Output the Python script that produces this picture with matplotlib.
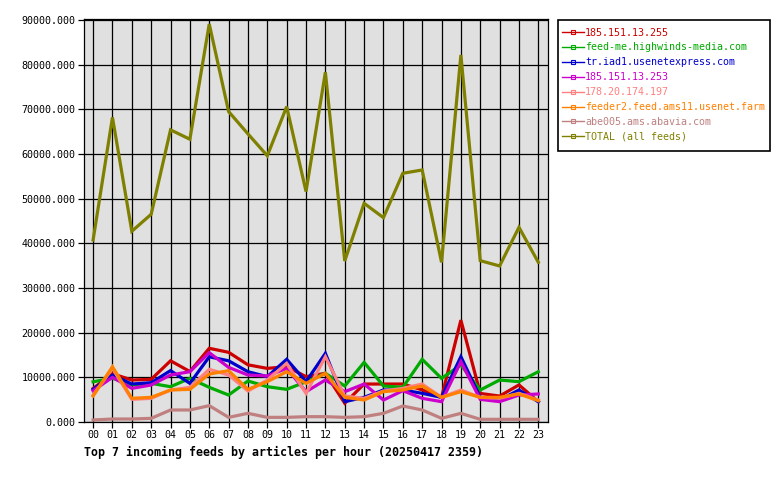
import matplotlib
matplotlib.use("Agg")
import matplotlib.pyplot as plt
from matplotlib.ticker import FuncFormatter
from matplotlib.lines import Line2D
from matplotlib.patches import Rectangle

hours = [f"{h:02d}" for h in range(24)]

feed_185_151_13_255 = [7500, 10800, 9400, 9550, 13700, 11300, 16500, 15600, 12800, 12000, 12400, 10150,
                       10900, 4200, 8500, 8500, 8500, 7200, 5500, 22800, 6400, 5800, 8300, 4550]
feed_highwinds = [9000, 9800, 8300, 8650, 7900, 9770, 7760, 6040, 9180, 7900, 7310, 9000,
                  10900, 8060, 13350, 8060, 7760, 14030, 9770, 12760, 7160, 9400, 9030, 11260]
feed_usenetexpress = [7300, 10500, 8500, 8800, 11500, 8650, 14600, 13700, 11260, 10150, 14030, 9030,
                      15370, 4550, 5520, 7160, 7160, 6420, 5520, 14620, 5520, 4920, 7160, 4550]
feed_185_151_13_253 = [7000, 10000, 7530, 8280, 10520, 11260, 15520, 12230, 10520, 10300, 12010, 6790,
                       9400, 6790, 8500, 4920, 7010, 5300, 4550, 13500, 5070, 4550, 6040, 6270]
feed_178_20_174_197 = [6000, 12000, 5070, 5300, 7160, 7760, 11790, 10520, 6940, 9400, 13130, 6420,
                       14620, 5820, 5300, 6940, 7530, 8500, 5520, 7160, 5520, 5300, 6420, 4920]
feed_ams11 = [5820, 12380, 5300, 5520, 7160, 7310, 10740, 11490, 7310, 9030, 11260, 8650,
              10890, 5520, 4920, 6790, 7160, 8060, 5520, 6790, 5520, 5520, 6270, 4770]
feed_abavia = [450, 670, 670, 820, 2690, 2690, 3660, 1040, 1940, 1040, 1040, 1190,
               1190, 1040, 1190, 1940, 3580, 2690, 820, 1940, 600, 600, 600, 600]
total_all = [40750, 68200, 42700, 46500, 65400, 63300, 89100, 69500, 64500, 59600, 70600, 51600,
             78300, 36050, 48960, 45750, 55680, 56420, 35750, 82170, 36120, 34930, 43590, 35750]

series_names = ["185.151.13.255", "feed-me.highwinds-media.com", "tr.iad1.usenetexpress.com",
                "185.151.13.253", "178.20.174.197", "feeder2.feed.ams11.usenet.farm",
                "abe005.ams.abavia.com", "TOTAL (all feeds)"]
series_values = [feed_185_151_13_255, feed_highwinds, feed_usenetexpress, feed_185_151_13_253,
                 feed_178_20_174_197, feed_ams11, feed_abavia, total_all]
series_colors = ["#CC0000", "#00AA00", "#0000CC", "#CC00CC", "#FF8080", "#FF8000", "#C08080", "#808000"]

title = "Top 7 incoming feeds by articles per hour (20250417 2359)"

mono = "DejaVu Sans Mono"
fs = 7.2
W, H = 780, 480

fig = plt.figure(figsize=(7.8, 4.8), dpi=100)
fig.patch.set_facecolor("white")
ax = fig.add_axes([84 / W, 58 / H, 464 / W, 403 / H])
ax.set_facecolor("#E0E0E0")

x = list(range(len(hours)))
for name, vals, col in zip(series_names, series_values, series_colors):
    ax.plot(x, vals, color=col, lw=2.3, solid_joinstyle="miter", zorder=3, label=name)

ax.set_xlim(-0.47, 23.5)
ax.set_ylim(0, 90220)
ax.set_yticks(range(0, 90001, 10000))
ax.yaxis.set_major_formatter(FuncFormatter(lambda v, p: f"{v:.3f}"))
ax.set_xticks(x)
ax.set_xticklabels(hours)
ax.grid(True, color="black", lw=0.9, zorder=1)
ax.set_axisbelow(True)
for sp in ax.spines.values():
    sp.set_color("black")
    sp.set_linewidth(0.9)
ax.tick_params(axis="both", direction="out", length=4, width=0.9, color="black", pad=2)
for lbl in ax.get_xticklabels() + ax.get_yticklabels():
    lbl.set_family(mono)
    lbl.set_fontsize(fs)

fig.text(84 / W, 1 - 452 / H, title, family=mono, fontweight="bold", fontsize=8.4,
         ha="left", va="center")

# legend frame
fig.patches.append(Rectangle((558 / W, 1 - 151 / H), 212 / W, 131 / H, transform=fig.transFigure,
                             facecolor="white", edgecolor="black", lw=1.2, zorder=1))

leg_handles = [Line2D([0], [0], color=c, lw=1.0, marker="s", markersize=2.5,
                      markerfacecolor="none", markeredgewidth=0.8) for c in series_colors]
leg = fig.legend(leg_handles, series_names, loc="upper left",
                 bbox_to_anchor=(562 / W, 1 - 27.5 / H), frameon=False,
                 prop={"family": mono, "size": fs}, handlelength=2.2, handletextpad=0.1,
                 labelspacing=0.49, borderpad=0, borderaxespad=0)
leg.set_zorder(2)
for t, c in zip(leg.get_texts(), series_colors):
    t.set_color(c)

fig.savefig("out.png", dpi=100)
